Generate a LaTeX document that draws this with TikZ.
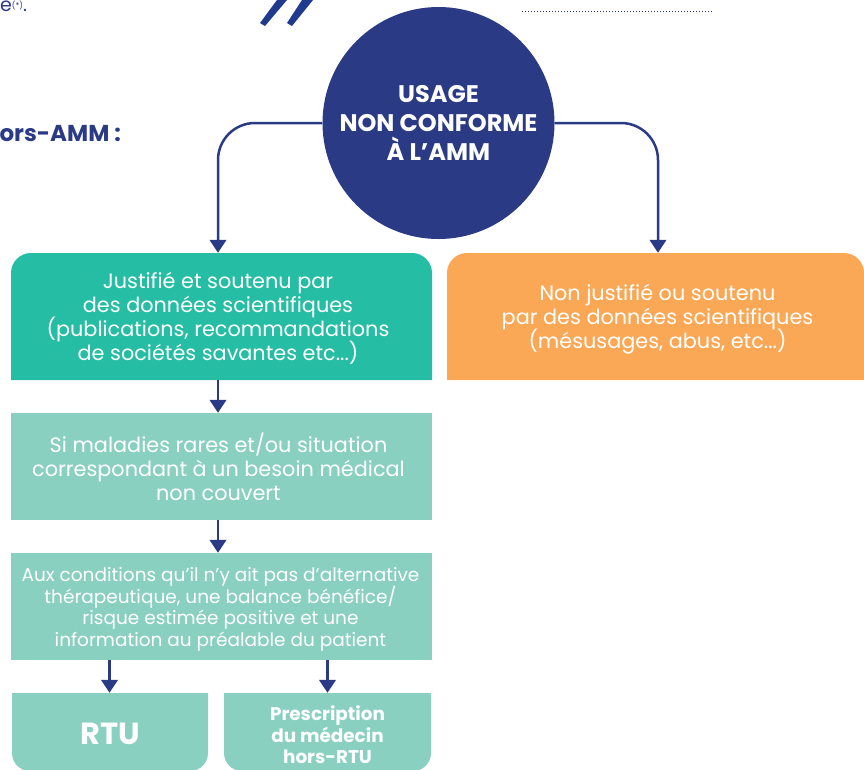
\documentclass[tikz,border=0pt]{standalone}
\usepackage{fontspec}
\setmainfont{Poppins}
\usetikzlibrary{arrows.meta}
\AtBeginDocument{\lineskiplimit=-30pt\relax}
\definecolor{navy}{HTML}{2A3A85}
\definecolor{slash}{HTML}{1F3A8F}
\definecolor{teal}{HTML}{25BDA3}
\definecolor{mint}{HTML}{8AD0C1}
\definecolor{orng}{HTML}{FAA855}
\tikzset{
  x=1pt,y=-1pt,
  shapebox/.style={inner sep=0pt,minimum width=#1},
  boxtxt/.style={inner sep=0pt,align=center,text=white,font=\fontsize{20.8}{24}\selectfont},
  condtxt/.style={inner sep=0pt,align=center,text=white,font=\fontsize{18.5}{21.5}\selectfont},
  link/.style={navy,line width=2.5pt,-{Triangle[width=16.5pt,length=13pt]}},
  heading/.style={inner sep=0pt,text=navy,font=\fontsize{23}{23}\selectfont\bfseries}
}
\begin{document}
\begin{tikzpicture}
\useasboundingbox (0,0) rectangle (864,769);
% box shapes
\fill[teal] (11,380) [rounded corners=20pt] -- (11,253) -- (432,253) [sharp corners] -- (432,380) -- cycle;
\fill[orng] (447,380) [rounded corners=20pt] -- (447,253) -- (864,253) [sharp corners] -- (864,380) -- cycle;
\fill[mint] (11,413) rectangle (432,520);
\fill[mint] (11,553) rectangle (432,660);
\fill[mint] (12,693) [rounded corners=18pt] -- (12,771) -- (208,771) [sharp corners] -- (208,693) -- cycle;
\fill[mint] (224,693) [rounded corners=18pt] -- (224,771) -- (431,771) [sharp corners] -- (431,693) -- cycle;
% top fragments
\fill[slash] (260,23) -- (265,26) -- (287,0) -- (277,0) -- cycle;
\fill[slash] (287,23) -- (292,26) -- (313,0) -- (302,0) -- cycle;
\draw[slash,line width=1pt,dotted] (522,11) -- (712,11);
\node[heading,anchor=base east] (hors) at (121,141) {ors-AMM :};
\node[inner sep=0pt,anchor=base west,text=navy,font=\fontsize{19}{19}\selectfont] (frag) at (0,11) {e\raisebox{3pt}{\fontsize{8}{8}\selectfont (*)}.};
% nodes
\node[circle,fill=navy,minimum size=232pt,inner sep=0pt,align=center,text=white,font=\fontsize{24}{29}\selectfont\bfseries] (usage) at (438.5,123) {USAGE\\NON CONFORME\\À L'AMM};
\node[shapebox=421pt,minimum height=127pt,
  label={[boxtxt,xshift=-3.5pt,yshift=-2pt]center:{Justifié et soutenu par\\des données scientifiques\\(publications, recommandations\\de sociétés savantes etc...)}}] (just) at (221.5,316.5) {};
\node[shapebox=417pt,minimum height=127pt,
  label={[boxtxt,xshift=2pt,yshift=-3pt]center:{Non justifié ou soutenu\\par des données scientifiques\\(mésusages, abus, etc...)}}] (non) at (655.5,316.5) {};
\node[shapebox=421pt,minimum height=107pt,
  label={[boxtxt,xshift=-3pt]center:{Si maladies rares et/ou situation\\correspondant à un besoin médical\\non couvert}}] (rare) at (221.5,466.5) {};
\node[shapebox=421pt,minimum height=107pt,
  label={[condtxt,xshift=-1pt,yshift=-3pt]center:{Aux conditions qu'il n'y ait pas d'alternative\\thérapeutique, une balance bénéfice/\\risque estimée positive et une\\information au préalable du patient}}] (cond) at (221.5,606.5) {};
\node[shapebox=196pt,minimum height=78pt,
  label={[inner sep=0pt,text=white,font=\fontsize{30.5}{30}\selectfont\bfseries,yshift=-2pt]center:RTU}] (rtu) at (110,732) {};
\node[shapebox=207pt,minimum height=78pt,
  label={[inner sep=0pt,align=center,text=white,font=\fontsize{18.4}{21.5}\selectfont\bfseries,yshift=-3pt]center:{Prescription\\du médecin\\hors-RTU}}] (presc) at (327.5,732) {};
% connectors
\draw[link,rounded corners=37pt] (usage.west) -| ([xshift=-3.5pt]just.north);
\draw[link,rounded corners=37pt] (usage.east) -| ([xshift=2.5pt]non.north);
\draw[link] ([xshift=-3.5pt]just.south) -- ([xshift=-3.5pt]rare.north);
\draw[link] ([xshift=-3.5pt]rare.south) -- ([xshift=-3.5pt]cond.north);
\draw[link] ([xshift=-0.5pt]rtu.north |- cond.south) -- ([xshift=-0.5pt]rtu.north);
\draw[link] (presc.north |- cond.south) -- (presc.north);
\end{tikzpicture}
\end{document}
